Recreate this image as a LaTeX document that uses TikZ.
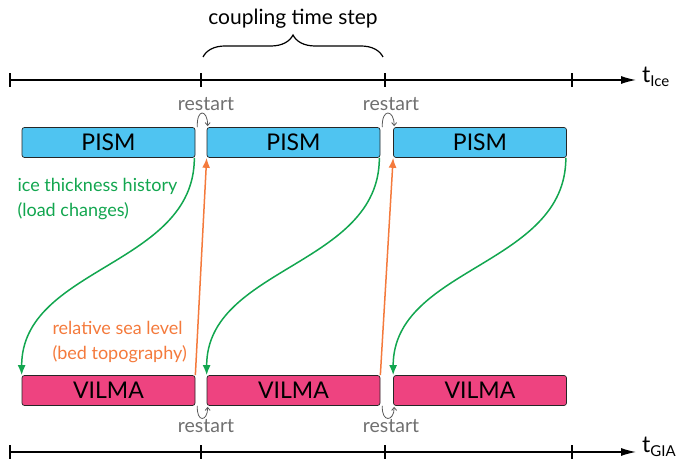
\documentclass[tikz,border=0pt]{standalone}
\usepackage{fontspec}
\setmainfont{Lato}
\usetikzlibrary{arrows.meta,decorations.pathreplacing}
\definecolor{pismblue}{RGB}{79,196,241}
\definecolor{vilmapink}{RGB}{238,67,128}
\definecolor{icegreen}{RGB}{18,166,79}
\definecolor{seaorange}{RGB}{244,122,60}
\definecolor{restartgray}{RGB}{112,112,112}
\newcommand{\tsub}[1]{t\raisebox{-4pt}{\fontsize{15}{15}\selectfont #1}}
\begin{document}
\begin{tikzpicture}%
[x=1pt,y=1pt,
box/.style={draw=black!85, line width=0.7pt, rounded corners=2.5pt, minimum width=173pt, minimum height=30pt, inner sep=0pt, font=\fontsize{23}{23}\selectfont},%
pism/.style={box, fill=pismblue},%
vilma/.style={box, fill=vilmapink},%
timeaxis/.style={line width=1.2pt, -{Latex[length=15pt,width=8pt]}},%
tickmark/.style={line width=1.2pt},%
restart/.style={text=restartgray, font=\fontsize{19.5}{19.5}\selectfont},%
loop/.style={draw=restartgray!80!black, line width=0.8pt, -{Straight Barb[length=3pt,width=5pt]}},%
ice/.style={draw=icegreen, line width=1.5pt, -{Latex[length=10pt,width=8pt]}},%
sea/.style={draw=seaorange, line width=1.5pt, -{Latex[length=10pt,width=8pt]}},%
lbl/.style={anchor=west, align=left, font=\fontsize{18}{25}\selectfont}]
\useasboundingbox (0,0) rectangle (678,462);
% time axes
\coordinate (ice0) at (10,382);
\coordinate (ice1) at (636,382);
\coordinate (gia0) at (10,10);
\coordinate (gia1) at (636,10);
\draw[timeaxis] (ice0) -- (ice1);
\draw[timeaxis] (gia0) -- (gia1);
\node[anchor=base west, inner sep=0pt, font=\fontsize{23}{23}\selectfont] (tice) at (642,379) {\tsub{Ice}};
\node[anchor=base west, inner sep=0pt, font=\fontsize{23}{23}\selectfont] (tgia) at (642,9) {\tsub{GIA}};
\foreach \x in {10,201,385,572} {
  \draw[tickmark] (\x,375) -- (\x,389);
  \draw[tickmark] (\x,3) -- (\x,17);
}
% coupling step
\draw[decorate, decoration={brace,amplitude=22pt}, line width=1.2pt] (203,405) -- (383,405);
\node[font=\fontsize{21}{21}\selectfont] (cts) at (293,443) {coupling time step};
% models
\node[pism] (p1) at (108.5,319.5) {PISM};
\node[pism] (p2) at (293.5,319.5) {PISM};
\node[pism] (p3) at (480,319.5) {PISM};
\node[vilma] (v1) at (108.5,71.5) {VILMA};
\node[vilma] (v2) at (293.5,71.5) {VILMA};
\node[vilma] (v3) at (480,71.5) {VILMA};
% restarts
\node[restart] (r1) at (206,358) {restart};
\node[restart] (r2) at (391,358) {restart};
\node[restart] (r3) at (206,36) {restart};
\node[restart] (r4) at (391,36) {restart};
\draw[loop] ([xshift=2pt]p1.north east) .. controls +(-1,19) and +(0,17) .. ([xshift=1pt,yshift=1pt]p2.north west);
\draw[loop] ([xshift=2pt]p2.north east) .. controls +(-1,19) and +(0,17) .. ([xshift=1pt,yshift=1pt]p3.north west);
\draw[loop] ([xshift=2pt]v1.south east) .. controls +(-1,-17) and +(0,-15) .. ([xshift=1pt,yshift=-1pt]v2.south west);
\draw[loop] ([xshift=2pt]v2.south east) .. controls +(-1,-17) and +(0,-15) .. ([xshift=1pt,yshift=-1pt]v3.south west);
% exchange
\draw[ice] ([xshift=-1pt]p1.south east) to[out=270,in=90] (v1.north west);
\draw[ice] ([xshift=-1pt]p2.south east) to[out=270,in=90] (v2.north west);
\draw[ice] ([xshift=-1pt]p3.south east) to[out=270,in=90] (v3.north west);
\draw[sea] (v1.north east) -- (p2.south west);
\draw[sea] (v2.north east) -- (p3.south west);
\node[lbl, text=icegreen] (ith) at (14,263) {ice thickness history\\(load changes)};
\node[lbl, text=seaorange] (rsl) at (49,120) {relative sea level\\(bed topography)};
\end{tikzpicture}
\end{document}
